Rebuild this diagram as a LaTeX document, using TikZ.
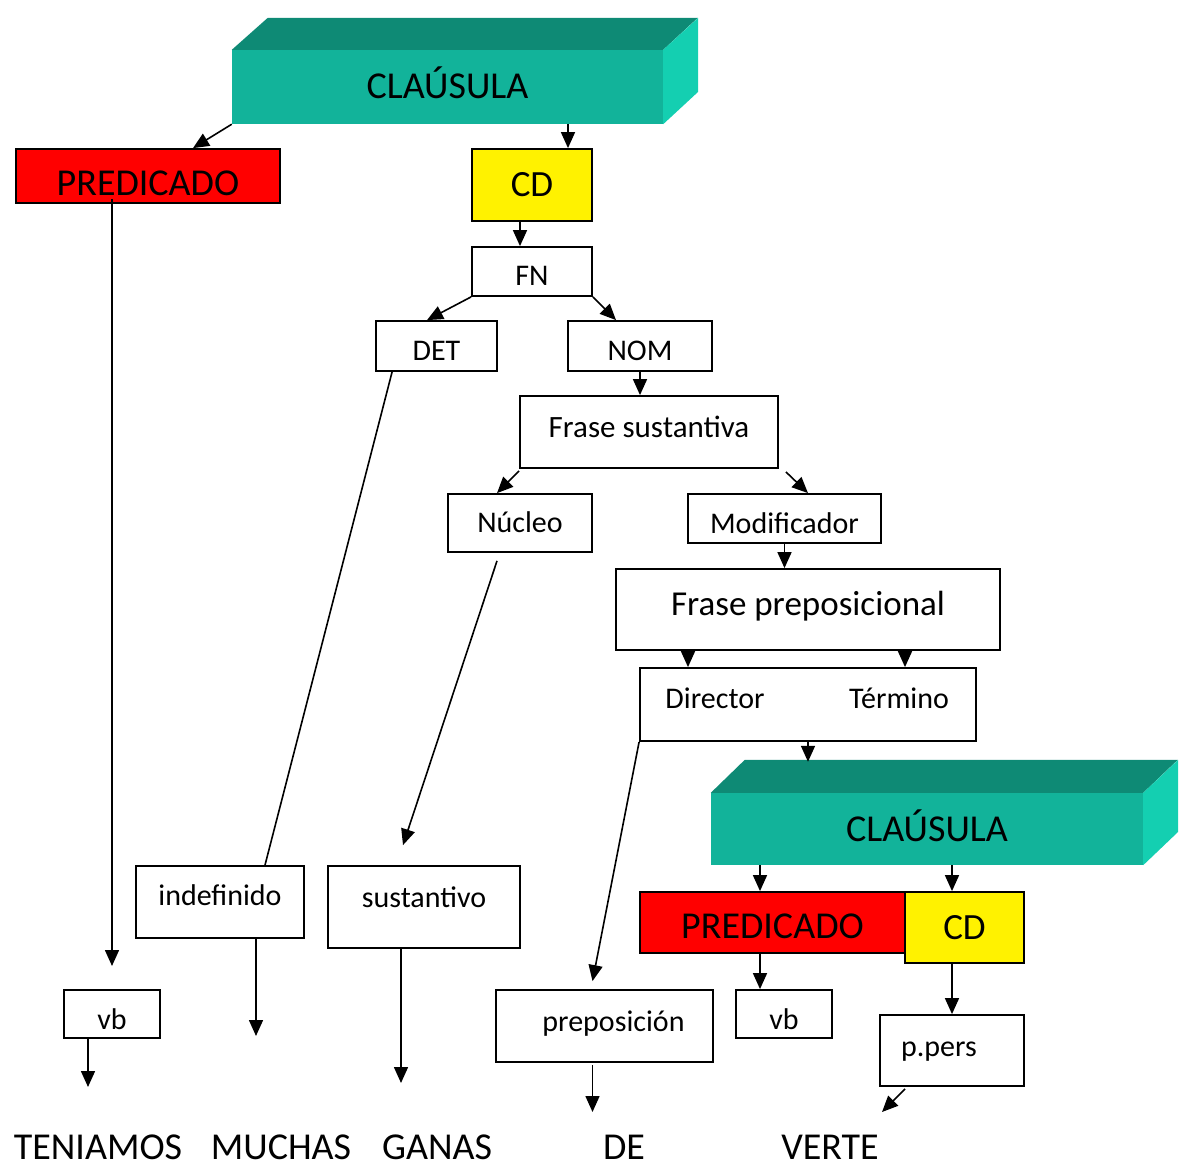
\documentclass[tikz,border=0pt]{standalone}
\usepackage{fontspec}
\setmainfont{Carlito}
\usetikzlibrary{arrows.meta}
\definecolor{verde}{RGB}{18,179,154}
\definecolor{verdeosc}{RGB}{14,138,117}
\definecolor{verdecla}{RGB}{20,207,177}
\begin{document}
\begin{tikzpicture}[x=1pt,y=-1pt]
\tikzset{caja/.style={draw, line width=1.8pt, inner sep=0pt, font=\fontsize{30}{30}\selectfont, text height=19pt, text depth=0pt},
  grande/.style={font=\fontsize{38}{38}\selectfont, text height=24pt},
  medio/.style={font=\fontsize{37}{37}\selectfont, text height=23pt},
  bloque/.style={fill=verde, inner sep=0pt, grande, text depth=0pt},
  texto/.style={inner sep=0pt, font=\fontsize{30}{30}\selectfont, text height=19pt, text depth=0pt},
  palabra/.style={inner sep=0pt, anchor=base, text depth=0pt, font=\fontsize{38}{38}\selectfont},
  flecha/.style={line width=1.6pt, -{Triangle[length=16pt,width=14pt]}},
  linea/.style={line width=1.6pt}}
\useasboundingbox (0,0) rectangle (1192,1169);
% clausula principal
\node[bloque, minimum width=431pt, minimum height=74pt] (C1) at (447.5,87) {CLAÚSULA};
\fill[verdeosc] (C1.north west) -- ++(36,-32) -- ++(430,0) -- (C1.north east) -- cycle;
\fill[verdecla] (C1.north east) -- ++(35,-32) -- ++(0,74) -- (C1.south east) -- cycle;
\node[caja, fill=red, grande, minimum width=264pt, minimum height=54pt] (P1) at (148,176) {\raisebox{-8pt}{PREDICADO}};
\node[caja, fill=yellow, medio, minimum width=120pt, minimum height=72pt] (CD1) at (532,185) {CD};
\node[caja, minimum width=120pt, minimum height=49pt] (FN) at (532,271.5) {\raisebox{-5pt}{FN}};
\node[caja, minimum width=121pt, minimum height=50pt] (DET) at (436.5,346) {\raisebox{-5pt}{DET}};
\node[caja, minimum width=144pt, minimum height=50pt] (NOM) at (640,346) {\raisebox{-5pt}{NOM}};
\node[caja, font=\fontsize{31}{31}\selectfont, text height=19.5pt, minimum width=258pt, minimum height=72pt] (FS) at (649,432) {\raisebox{4pt}{Frase sustantiva}};
\node[caja, minimum width=144pt, minimum height=58pt] (NUC) at (520,523) {Núcleo};
\node[caja, minimum width=193pt, minimum height=49pt] (MOD) at (784.5,518.5) {\raisebox{-5pt}{Modificador}};
\node[caja, font=\fontsize{35}{35}\selectfont, text height=22pt, minimum width=384pt, minimum height=81pt] (FP) at (808,609.5) {\raisebox{5pt}{Frase preposicional}};
\node[caja, minimum width=336pt, minimum height=73pt] (DT) at (808,704.5) {};
\node[texto] (DIR) at (715,698.5) {Director};
\node[texto] (TER) at (899,698.5) {Término};
% clausula subordinada
\node[bloque, minimum width=432pt, minimum height=72pt] (C2) at (927,829) {CLAÚSULA};
\fill[verdeosc] (C2.north west) -- ++(34,-33) -- ++(433,0) -- (C2.north east) -- cycle;
\fill[verdecla] (C2.north east) -- ++(35,-33) -- ++(0,72) -- (C2.south east) -- cycle;
\coordinate (T2) at ([yshift=31pt]C2.north);
\node[caja, fill=red, grande, minimum width=265pt, minimum height=61pt] (P2) at (772.5,922.5) {\raisebox{-4pt}{PREDICADO}};
\node[caja, fill=yellow, medio, minimum width=119pt, minimum height=71pt] (CD2) at (964.5,927.5) {CD};
\node[caja, minimum width=96pt, minimum height=48pt] (VB2) at (784,1014) {\raisebox{-6pt}{vb}};
\node[caja, minimum width=144pt, minimum height=71pt] (PP) at (952,1050.5) {\hspace*{-26pt}\raisebox{4pt}{p.pers}};
% categorias
\node[caja, minimum width=217pt, minimum height=72pt] (PREP) at (604.5,1026) {\hspace*{18pt}\raisebox{4pt}{preposición}};
\node[caja, minimum width=96pt, minimum height=48pt] (VB1) at (112,1014) {\raisebox{-6pt}{vb}};
\node[caja, minimum width=168pt, minimum height=72pt] (IND) at (220,902) {\raisebox{6pt}{indefinido}};
\node[caja, minimum width=192pt, minimum height=82pt] (SUS) at (424,907) {\raisebox{9pt}{sustantivo}};
% palabras
\node[palabra] (W1) at (98,1159) {TENIAMOS};
\node[palabra] (W2) at (281,1159) {MUCHAS};
\node[palabra] (W3) at (437,1159) {GANAS};
\node[palabra] (W4) at (624,1159) {DE};
\node[palabra] (W5) at (830,1159) {VERTE};
\coordinate (E1) at (112,966);
\coordinate (E2) at (256,1036);
\coordinate (E3) at (401,1083);
\coordinate (E4) at (88,1087);
\coordinate (E5) at (592.5,1112);
\coordinate (E6) at (882,1112);
% flechas
\draw[flecha] (C1.south west) -- ([xshift=45pt]P1.north);
\draw[flecha] ([xshift=120.5pt]C1.south) -- ([xshift=36pt]CD1.north);
\draw[flecha] ([yshift=5pt]P1.south -| E1) -- (E1);
\draw[flecha] ([xshift=-12pt]CD1.south) -- ([xshift=-12pt]FN.north);
\draw[flecha] (FN.south west) -- ([xshift=-9.5pt]DET.north);
\draw[flecha] (FN.south east) -- ([xshift=-24pt]NOM.north);
\draw[flecha] (NOM.south) -- (NOM.south |- FS.north);
\draw[flecha] ([yshift=-2pt]FS.south west) -- ([xshift=-23pt]NUC.north);
\draw[flecha] ([xshift=7pt,yshift=-3pt]FS.south east) -- ([xshift=23.5pt]MOD.north);
\draw[flecha] (MOD.south) -- (MOD.south |- FP.north);
\draw[flecha] ([xshift=-120pt]FP.south) -- ([xshift=-120pt]DT.north);
\draw[flecha] ([xshift=97pt]FP.south) -- ([xshift=97pt]DT.north);
\draw[flecha] (DT.south) -- (DT.south |- T2);
\draw[flecha] ([xshift=-167pt]C2.south) -- ([xshift=-12.5pt]P2.north);
\draw[flecha] ([xshift=25pt]C2.south) -- ([xshift=-12.5pt]CD2.north);
\draw[flecha] ([xshift=-12.5pt]P2.south) -- ([xshift=-24pt]VB2.north);
\draw[flecha] ([xshift=-12.5pt]CD2.south) -- (PP.north);
\draw[flecha] ([xshift=-47pt,yshift=-2pt]PP.south) -- (E6);
\draw[linea] ([xshift=17pt]DET.south west) -- ([xshift=45pt]IND.north);
\draw[flecha] ([xshift=36pt]IND.south) -- (E2);
\draw[flecha] ([xshift=-23pt,yshift=-8pt]NUC.south) -- ([xshift=-21pt,yshift=20pt]SUS.north);
\draw[flecha] ([xshift=-23pt]SUS.south) -- (E3);
\draw[flecha] (DT.south west) -- ([xshift=-12pt,yshift=8pt]PREP.north);
\draw[flecha] ([xshift=-12pt,yshift=-2pt]PREP.south) -- (E5);
\draw[flecha] ([xshift=-24pt]VB1.south) -- (E4);
\end{tikzpicture}
\end{document}
